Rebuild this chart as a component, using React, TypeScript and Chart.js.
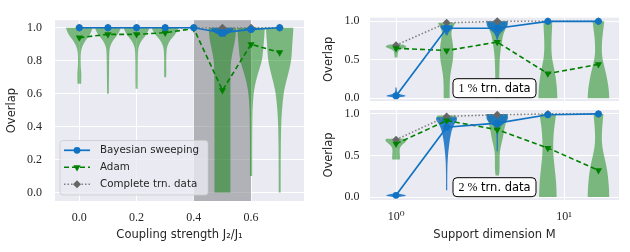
import React, { useEffect, useRef } from 'react';
import { Chart, registerables } from 'chart.js';
Chart.register(...registerables);

// ---------- data ----------
const couplingRatio = [0.0, 0.1, 0.2, 0.3, 0.4, 0.5, 0.6, 0.7];
const bayesOverlapJ = [1.0, 1.0, 1.0, 1.0, 1.0, 0.97, 0.99, 1.0];
const adamOverlapJ = [0.94, 0.96, 0.96, 0.97, 0.995, 0.62, 0.9, 0.85];
const completeOverlapJ = [1.0, 1.0, 1.0, 1.0, 1.0, 1.0, 1.0, 1.0];

const supportDim = [1, 2, 4, 8, 16];
const bayesOverlap1 = [0.03, 0.91, 0.91, 1.0, 1.0];
const adamOverlap1 = [0.65, 0.62, 0.73, 0.32, 0.44];
const completeOverlap1 = [0.69, 0.98, 1.0, 1.0, 1.0];
const bayesOverlap2 = [0.02, 0.84, 0.89, 0.99, 1.0];
const adamOverlap2 = [0.64, 0.92, 0.81, 0.59, 0.32];
const completeOverlap2 = [0.69, 0.97, 0.99, 1.0, 1.0];

const leftXTicks = [0, 0.2, 0.4, 0.6];
const leftYTicks = [0, 0.2, 0.4, 0.6, 0.8, 1.0];
const rightXTicks = [1, 10];
const rightXTickLabels = ['10\u2070', '10\u00B9'];
const rightYTicks = [0, 0.5, 1.0];
const shadedRange = [0.4, 0.6];
const seriesLabels = ['Bayesian sweeping', 'Adam', 'Complete trn. data'];
const panelNotes = ['1 %', '2 %'];

// violin profiles: [overlap value, relative half width]
const adamViolinJ0 = [[1.0, 0.95], [0.97, 0.85], [0.94, 0.6], [0.91, 0.35], [0.88, 0.18], [0.85, 0.1], [0.8, 0.09], [0.76, 0.1], [0.73, 0.14], [0.69, 0.14], [0.66, 0.13]];
const adamViolinJ1 = [[1.0, 0.93], [0.97, 0.8], [0.94, 0.52], [0.91, 0.27], [0.88, 0.13], [0.84, 0.09], [0.75, 0.08], [0.68, 0.07], [0.6, 0.06]];
const adamViolinJ2 = [[1.0, 0.93], [0.97, 0.8], [0.94, 0.52], [0.91, 0.27], [0.88, 0.13], [0.84, 0.09], [0.75, 0.08], [0.68, 0.08], [0.63, 0.07]];
const adamViolinJ3 = [[1.0, 0.97], [0.97, 0.82], [0.94, 0.5], [0.91, 0.25], [0.88, 0.12], [0.84, 0.08], [0.78, 0.07], [0.74, 0.08], [0.7, 0.07]];
const adamViolinJ5 = [[1.0, 0.98], [0.95, 0.95], [0.9, 0.85], [0.85, 0.72], [0.8, 0.62], [0.75, 0.58], [0.5, 0.57], [0.2, 0.57], [0.0, 0.57]];
const adamViolinJ6 = [[1.0, 0.98], [0.95, 0.95], [0.9, 0.9], [0.85, 0.85], [0.8, 0.78], [0.75, 0.6], [0.7, 0.42], [0.65, 0.28], [0.6, 0.18], [0.5, 0.1], [0.4, 0.09], [0.3, 0.08], [0.2, 0.08], [0.1, 0.08]];
const adamViolinJ7 = [[1.0, 0.98], [0.95, 0.95], [0.9, 0.9], [0.85, 0.87], [0.8, 0.82], [0.75, 0.7], [0.7, 0.55], [0.65, 0.4], [0.6, 0.28], [0.5, 0.16], [0.4, 0.1], [0.2, 0.07], [0.0, 0.07]];
const bayesViolinJ5 = [[1.0, 0.8], [0.98, 0.75], [0.965, 0.45], [0.955, 0.25], [0.945, 0.2]];
const bayesViolinJ6 = [[1.0, 0.5], [0.99, 0.4], [0.98, 0.2], [0.97, 0.1]];
const adamViolinsJ = [adamViolinJ0, adamViolinJ1, adamViolinJ2, adamViolinJ3, null, adamViolinJ5, adamViolinJ6, adamViolinJ7];
const bayesViolinsJ = [null, null, null, null, null, bayesViolinJ5, bayesViolinJ6, null];

const adamViolin1M1 = [[0.7, 0.6], [0.68, 0.98], [0.66, 0.9], [0.64, 0.5], [0.62, 0.25], [0.6, 0.18], [0.57, 0.15], [0.53, 0.12]];
const adamViolin1M2 = [[0.98, 0.78], [0.95, 0.7], [0.9, 0.5], [0.85, 0.42], [0.8, 0.45], [0.7, 0.58], [0.6, 0.62], [0.5, 0.58], [0.4, 0.45], [0.3, 0.33], [0.2, 0.28], [0.1, 0.27], [0.0, 0.27]];
const adamViolin1M4 = [[1.0, 0.9], [0.95, 0.85], [0.9, 0.75], [0.85, 0.6], [0.8, 0.5], [0.7, 0.38], [0.6, 0.28], [0.5, 0.22], [0.4, 0.2], [0.3, 0.18], [0.2, 0.18], [0.1, 0.18], [0.0, 0.18]];
const adamViolin1M8 = [[1.0, 0.4], [0.9, 0.38], [0.8, 0.34], [0.7, 0.32], [0.6, 0.33], [0.5, 0.4], [0.4, 0.55], [0.3, 0.68], [0.2, 0.78], [0.1, 0.84], [0.0, 0.86]];
const adamViolin1M16 = [[1.0, 0.53], [0.9, 0.45], [0.8, 0.36], [0.7, 0.31], [0.6, 0.3], [0.5, 0.38], [0.4, 0.55], [0.3, 0.72], [0.2, 0.85], [0.1, 0.95], [0.0, 0.98]];
const bayesViolin1M1 = [[0.14, 0.04], [0.1, 0.06], [0.06, 0.15], [0.045, 0.6], [0.03, 0.95], [0.02, 0.7], [0.01, 0.2]];
const bayesViolin1M2 = [[0.95, 0.5], [0.93, 0.6], [0.9, 0.45], [0.87, 0.25], [0.84, 0.12], [0.82, 0.08]];
const bayesViolin1M4 = [[1.0, 0.95], [0.97, 0.98], [0.93, 0.9], [0.9, 0.7], [0.87, 0.45], [0.84, 0.25], [0.8, 0.1], [0.76, 0.03]];
const adamViolins1 = [adamViolin1M1, adamViolin1M2, adamViolin1M4, adamViolin1M8, adamViolin1M16];
const bayesViolins1 = [bayesViolin1M1, bayesViolin1M2, bayesViolin1M4, null, null];

const adamViolin2M1 = [[0.7, 0.9], [0.68, 1.0], [0.66, 0.85], [0.63, 0.55], [0.6, 0.38], [0.57, 0.32], [0.53, 0.33], [0.49, 0.36], [0.45, 0.35]];
const adamViolin2M2 = [[0.98, 0.8], [0.96, 0.95], [0.94, 0.9], [0.92, 0.6], [0.9, 0.3], [0.88, 0.1]];
const adamViolin2M4 = [[1.0, 0.95], [0.95, 0.9], [0.9, 0.8], [0.85, 0.7], [0.8, 0.62], [0.7, 0.5], [0.6, 0.3], [0.5, 0.2], [0.4, 0.22], [0.3, 0.2], [0.26, 0.15]];
const adamViolin2M8 = [[1.0, 0.75], [0.9, 0.65], [0.8, 0.55], [0.7, 0.5], [0.6, 0.48], [0.5, 0.5], [0.4, 0.58], [0.3, 0.66], [0.2, 0.74], [0.1, 0.78], [0.0, 0.8]];
const adamViolin2M16 = [[1.0, 0.45], [0.9, 0.38], [0.8, 0.32], [0.7, 0.3], [0.6, 0.35], [0.5, 0.5], [0.4, 0.68], [0.3, 0.82], [0.2, 0.9], [0.1, 0.96], [0.0, 0.98]];
const bayesViolin2M1 = [[0.04, 0.3], [0.03, 0.7], [0.02, 0.95], [0.01, 0.8], [0.0, 0.3]];
const bayesViolin2M2 = [[0.96, 0.9], [0.93, 1.0], [0.9, 0.8], [0.85, 0.6], [0.8, 0.45], [0.7, 0.3], [0.6, 0.2], [0.5, 0.12], [0.4, 0.08], [0.3, 0.06], [0.2, 0.05], [0.08, 0.04]];
const bayesViolin2M4 = [[1.0, 0.9], [0.97, 1.0], [0.93, 0.95], [0.9, 0.75], [0.87, 0.45], [0.84, 0.2], [0.8, 0.08], [0.7, 0.05], [0.6, 0.04], [0.55, 0.03]];
const adamViolins2 = [adamViolin2M1, adamViolin2M2, adamViolin2M4, adamViolin2M8, adamViolin2M16];
const bayesViolins2 = [bayesViolin2M1, bayesViolin2M2, bayesViolin2M4, null, null];

// ---------- styles ----------
const SANS = '"DejaVu Sans", sans-serif';
const SERIF = '"Liberation Serif", "DejaVu Serif", serif';
const TEXT = '#262626';
const BG = '#EAEAF2';
const BLUE = '#0f72c2';
const GREEN = '#008000';
const GRAY = '#666666';
const GREEN_FILL = 'rgba(0,128,0,0.48)';
const BLUE_FILL = 'rgba(15,110,195,0.85)';

type Profile = number[][] | null;

function smoothThrough(ctx: CanvasRenderingContext2D, pts: number[][]) {
  const n = pts.length;
  if (n < 3) {
    for (let i = 1; i < n; i++) ctx.lineTo(pts[i][0], pts[i][1]);
    return;
  }
  for (let i = 1; i < n - 1; i++) {
    const mx = (pts[i][0] + pts[i + 1][0]) / 2;
    const my = (pts[i][1] + pts[i + 1][1]) / 2;
    ctx.quadraticCurveTo(pts[i][0], pts[i][1], mx, my);
  }
  ctx.lineTo(pts[n - 1][0], pts[n - 1][1]);
}

function violinPlugin(sets: { xs: number[]; profiles: Profile[]; color: string }[], maxHalf: number) {
  return {
    id: 'violins',
    beforeDatasetsDraw(chart: any) {
      const { ctx, chartArea, scales } = chart;
      const xs = scales.x;
      const ys = scales.y;
      ctx.save();
      ctx.beginPath();
      ctx.rect(chartArea.left, chartArea.top, chartArea.right - chartArea.left, chartArea.bottom - chartArea.top);
      ctx.clip();
      for (const set of sets) {
        set.profiles.forEach((prof, i) => {
          if (!prof) return;
          const cx = xs.getPixelForValue(set.xs[i]);
          const right = prof.map(([v, w]) => [cx + Math.max(w * maxHalf, 0.6), ys.getPixelForValue(v)]);
          const left = prof.map(([v, w]) => [cx - Math.max(w * maxHalf, 0.6), ys.getPixelForValue(v)]).reverse();
          ctx.beginPath();
          ctx.moveTo(right[0][0], right[0][1]);
          smoothThrough(ctx, right);
          ctx.lineTo(left[0][0], left[0][1]);
          smoothThrough(ctx, left);
          ctx.closePath();
          ctx.fillStyle = set.color;
          ctx.fill();
        });
      }
      ctx.restore();
    },
  };
}

const backgroundPlugin = {
  id: 'bgfill',
  beforeDraw(chart: any) {
    const { ctx, chartArea: a } = chart;
    ctx.save();
    ctx.fillStyle = BG;
    ctx.fillRect(a.left, a.top, a.right - a.left, a.bottom - a.top);
    ctx.restore();
  },
};

const spanPlugin = {
  id: 'span',
  beforeDatasetsDraw(chart: any) {
    const { ctx, chartArea: a, scales } = chart;
    const x0 = scales.x.getPixelForValue(shadedRange[0]);
    const x1 = scales.x.getPixelForValue(shadedRange[1]);
    ctx.save();
    ctx.fillStyle = 'rgba(120,120,125,0.5)';
    ctx.fillRect(x0, a.top, x1 - x0, a.bottom - a.top);
    ctx.restore();
  },
};

function drawMarker(ctx: CanvasRenderingContext2D, style: string, x: number, y: number, r: number, color: string) {
  ctx.beginPath();
  if (style === 'circle') {
    ctx.arc(x, y, r, 0, Math.PI * 2);
  } else if (style === 'triangle') {
    ctx.moveTo(x - r * 0.866, y - r * 0.5);
    ctx.lineTo(x + r * 0.866, y - r * 0.5);
    ctx.lineTo(x, y + r);
    ctx.closePath();
  } else {
    ctx.moveTo(x, y - r);
    ctx.lineTo(x + r, y);
    ctx.lineTo(x, y + r);
    ctx.lineTo(x - r, y);
    ctx.closePath();
  }
  ctx.fillStyle = color;
  ctx.fill();
}

function roundRect(ctx: CanvasRenderingContext2D, x: number, y: number, w: number, h: number, r: number) {
  ctx.beginPath();
  ctx.moveTo(x + r, y);
  ctx.lineTo(x + w - r, y);
  ctx.quadraticCurveTo(x + w, y, x + w, y + r);
  ctx.lineTo(x + w, y + h - r);
  ctx.quadraticCurveTo(x + w, y + h, x + w - r, y + h);
  ctx.lineTo(x + r, y + h);
  ctx.quadraticCurveTo(x, y + h, x, y + h - r);
  ctx.lineTo(x, y + r);
  ctx.quadraticCurveTo(x, y, x + r, y);
  ctx.closePath();
}

const legendPlugin = {
  id: 'customLegend',
  afterDraw(chart: any) {
    const { ctx, chartArea: a } = chart;
    const bx = a.left + 5;
    const bh = 54.5;
    const by = a.bottom - 6 - bh;
    const bw = 148;
    ctx.save();
    roundRect(ctx, bx, by, bw, bh, 3);
    ctx.fillStyle = 'rgba(234,234,242,0.8)';
    ctx.fill();
    ctx.strokeStyle = '#cccccc';
    ctx.lineWidth = 0.8;
    ctx.stroke();
    chart.data.datasets.forEach((ds: any, i: number) => {
      const yy = by + 9.8 + i * 17;
      ctx.beginPath();
      ctx.setLineDash(ds.borderDash || []);
      ctx.strokeStyle = ds.borderColor;
      ctx.lineWidth = ds.borderWidth;
      ctx.moveTo(bx + 4, yy);
      ctx.lineTo(bx + 30, yy);
      ctx.stroke();
      ctx.setLineDash([]);
      drawMarker(ctx, ds.pointStyle, bx + 17, yy, ds.pointRadius, ds.pointBackgroundColor);
      ctx.fillStyle = TEXT;
      ctx.font = `10.3px ${SANS}`;
      ctx.textBaseline = 'middle';
      ctx.textAlign = 'left';
      ctx.fillText(ds.label, bx + 40, yy + 0.5);
    });
    ctx.restore();
  },
};

function notePlugin(note: string) {
  return {
    id: 'note',
    afterDraw(chart: any) {
      const { ctx, chartArea: a } = chart;
      const w = 83;
      const h = 19;
      const cx = (a.left + a.right) / 2;
      const x = cx - w / 2;
      const y = a.bottom - 3.3 - h;
      ctx.save();
      roundRect(ctx, x, y, w, h, 4);
      ctx.fillStyle = '#ffffff';
      ctx.fill();
      ctx.strokeStyle = '#000000';
      ctx.lineWidth = 1;
      ctx.stroke();
      const serifFont = `12px ${SERIF}`;
      const sansFont = `11.5px ${SANS}`;
      ctx.font = serifFont;
      const w1 = ctx.measureText(note).width;
      ctx.font = sansFont;
      const rest = ' trn. data';
      const w2 = ctx.measureText(rest).width;
      const tx = cx - (w1 + w2) / 2;
      ctx.fillStyle = '#000';
      ctx.textBaseline = 'middle';
      ctx.textAlign = 'left';
      ctx.font = serifFont;
      ctx.fillText(note, tx, y + h / 2 + 0.5);
      ctx.font = sansFont;
      ctx.fillText(rest, tx + w1, y + h / 2 + 0.5);
      ctx.restore();
    },
  };
}

function makeDatasets(xs: number[], bayes: number[], adam: number[], complete: number[]) {
  return [
    {
      label: seriesLabels[0],
      data: xs.map((x, i) => ({ x, y: bayes[i] })),
      borderColor: BLUE,
      backgroundColor: BLUE,
      pointBackgroundColor: BLUE,
      pointBorderColor: BLUE,
      pointBorderWidth: 0,
      borderWidth: 1.7,
      pointStyle: 'circle',
      pointRadius: 3.4,
      order: 0,
      clip: false as any,
    },
    {
      label: seriesLabels[1],
      data: xs.map((x, i) => ({ x, y: adam[i] })),
      borderColor: GREEN,
      backgroundColor: GREEN,
      pointBackgroundColor: GREEN,
      pointBorderColor: GREEN,
      pointBorderWidth: 0,
      borderWidth: 1.6,
      borderDash: [5, 3],
      pointStyle: 'triangle',
      pointRotation: 180,
      pointRadius: 4.2,
      order: 1,
      clip: false as any,
    },
    {
      label: seriesLabels[2],
      data: xs.map((x, i) => ({ x, y: complete[i] })),
      borderColor: '#808080',
      backgroundColor: GRAY,
      pointBackgroundColor: GRAY,
      pointBorderColor: GRAY,
      pointBorderWidth: 0,
      borderWidth: 1.6,
      borderDash: [1.5, 2],
      pointStyle: 'rectRot',
      pointRadius: 4,
      order: 2,
      clip: false as any,
    },
  ];
}

const gridOpts = { color: '#ffffff', lineWidth: 1, drawTicks: false };
const tickFont = { family: SERIF, size: 12 };
const titleFont = { family: SANS, size: 11.5 };

function leftConfig(): any {
  return {
    type: 'line',
    data: { datasets: makeDatasets(couplingRatio, bayesOverlapJ, adamOverlapJ, completeOverlapJ) },
    options: {
      responsive: false,
      animation: false,
      events: [],
      layout: { padding: { left: 0, right: 326, top: 11, bottom: 0 } },
      plugins: { legend: { display: false }, tooltip: { enabled: false } },
      scales: {
        x: {
          type: 'linear',
          min: -0.085,
          max: 0.785,
          afterBuildTicks: (s: any) => { s.ticks = leftXTicks.map((v) => ({ value: v })); },
          afterFit: (s: any) => { s.height = 51; },
          grid: gridOpts,
          border: { display: false },
          ticks: { padding: 10, font: tickFont, color: TEXT, maxRotation: 0, callback: (v: number) => v.toFixed(1) },
          title: { display: true, text: 'Coupling strength J\u2082/J\u2081', font: titleFont, color: TEXT, padding: { top: 0, bottom: 10 } },
        },
        y: {
          type: 'linear',
          min: -0.052,
          max: 1.046,
          afterBuildTicks: (s: any) => { s.ticks = leftYTicks.map((v) => ({ value: v })); },
          afterFit: (s: any) => { s.width = 55; },
          grid: gridOpts,
          border: { display: false },
          ticks: { padding: 13, font: tickFont, color: TEXT, callback: (v: number) => v.toFixed(1) },
          title: { display: true, text: 'Overlap', font: titleFont, color: TEXT, padding: { top: 5.5, bottom: 0 } },
        },
      },
    },
    plugins: [
      backgroundPlugin,
      spanPlugin,
      violinPlugin([
        { xs: couplingRatio, profiles: adamViolinsJ, color: GREEN_FILL },
        { xs: couplingRatio, profiles: bayesViolinsJ, color: BLUE_FILL },
      ], 14),
      legendPlugin,
    ],
  };
}

function rightConfig(top: number, plotBottom: number, showX: boolean, bayes: number[], adam: number[], complete: number[], adamV: Profile[], bayesV: Profile[], note: string): any {
  const xHeight = showX ? 52 : 0;
  return {
    type: 'line',
    data: { datasets: makeDatasets(supportDim, bayes, adam, complete) },
    options: {
      responsive: false,
      animation: false,
      events: [],
      layout: { padding: { left: 320, right: 11, top, bottom: 252 - plotBottom - xHeight } },
      plugins: { legend: { display: false }, tooltip: { enabled: false } },
      scales: {
        x: {
          type: 'logarithmic',
          min: 0.736,
          max: 21.2,
          afterBuildTicks: (s: any) => { s.ticks = rightXTicks.map((v) => ({ value: v })); },
          afterFit: (s: any) => { s.height = xHeight; },
          grid: gridOpts,
          border: { display: false },
          ticks: {
            display: showX,
            padding: 10,
            font: tickFont,
            color: TEXT,
            maxRotation: 0,
            callback: (v: number) => rightXTickLabels[rightXTicks.indexOf(v)] ?? '',
          },
          title: { display: showX, text: 'Support dimension M', font: titleFont, color: TEXT, padding: { top: 0, bottom: 10 } },
        },
        y: {
          type: 'linear',
          min: -0.036,
          max: 1.047,
          afterBuildTicks: (s: any) => { s.ticks = rightYTicks.map((v) => ({ value: v })); },
          afterFit: (s: any) => { s.width = 50; },
          grid: gridOpts,
          border: { display: false },
          ticks: { padding: 10.5, font: tickFont, color: TEXT, callback: (v: number) => v.toFixed(1) },
          title: { display: true, text: 'Overlap', font: titleFont, color: TEXT, padding: { top: 2, bottom: 0 } },
        },
      },
    },
    plugins: [
      backgroundPlugin,
      violinPlugin([
        { xs: supportDim, profiles: adamV, color: GREEN_FILL },
        { xs: supportDim, profiles: bayesV, color: BLUE_FILL },
      ], 11),
      notePlugin(note),
    ],
  };
}

export default function App() {
  const leftRef = useRef<HTMLCanvasElement>(null);
  const topRef = useRef<HTMLCanvasElement>(null);
  const botRef = useRef<HTMLCanvasElement>(null);

  useEffect(() => {
    const charts = [
      new Chart(leftRef.current as HTMLCanvasElement, leftConfig()),
      new Chart(topRef.current as HTMLCanvasElement, rightConfig(11, 101, false, bayesOverlap1, adamOverlap1, completeOverlap1, adamViolins1, bayesViolins1, panelNotes[0])),
      new Chart(botRef.current as HTMLCanvasElement, rightConfig(110, 200, true, bayesOverlap2, adamOverlap2, completeOverlap2, adamViolins2, bayesViolins2, panelNotes[1])),
    ];
    return () => charts.forEach((c) => c.destroy());
  }, []);

  const cs: React.CSSProperties = { position: 'absolute', left: 0, top: 0 };
  return (
    <div style={{ position: 'fixed', left: 0, top: 0, width: 630, height: 252, background: '#ffffff', overflow: 'hidden' }}>
      <canvas ref={leftRef} width={630} height={252} style={cs} />
      <canvas ref={topRef} width={630} height={252} style={cs} />
      <canvas ref={botRef} width={630} height={252} style={cs} />
    </div>
  );
}
